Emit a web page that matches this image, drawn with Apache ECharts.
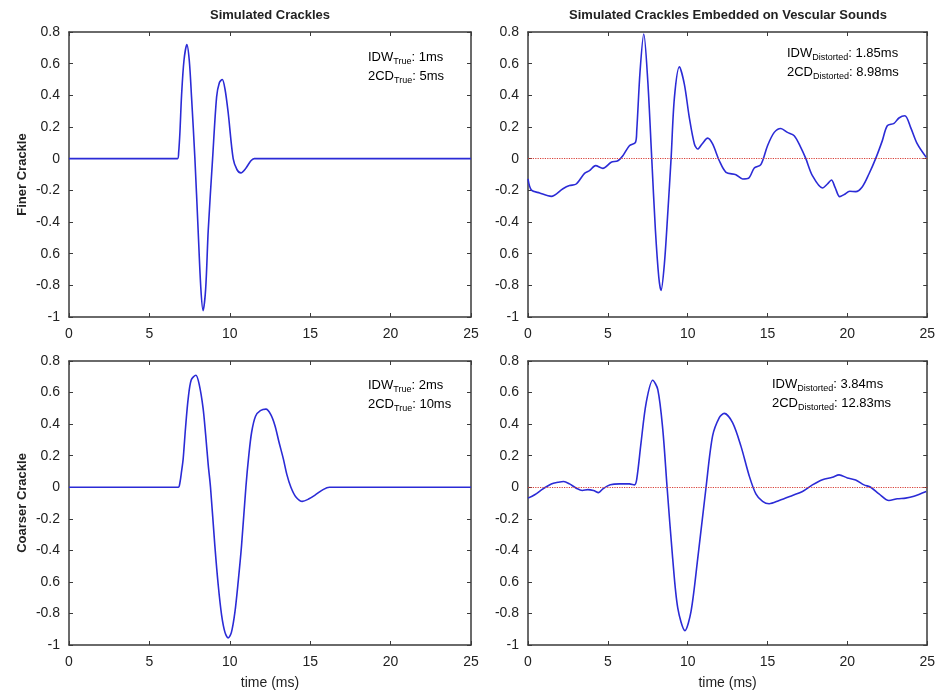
<!DOCTYPE html>
<html>
<head>
<meta charset="utf-8">
<script src="https://cdn.jsdelivr.net/npm/echarts@6/dist/echarts.min.js"></script>
<style>
  html, body { margin: 0; padding: 0; background: #fff; }
  #chart { width: 938px; height: 693px; }
</style>
</head>
<body>
<div id="chart"></div>
<script>
// ---- data ----
const titles = ['Simulated Crackles', 'Simulated Crackles Embedded on Vescular Sounds'];
const rowNames = ['Finer Crackle', 'Coarser Crackle'];
const xName = 'time (ms)';
const yTickLabels = ['-1', '-0.8', '0.6', '-0.4', '-0.2', '0', '0.2', '0.4', '0.6', '0.8'];

// finer crackle, simulated
const tFineTrue = [0, 6.75, 6.82, 6.9, 7.0, 7.15, 7.33, 7.48, 7.62, 7.83, 8.03, 8.2, 8.34, 8.5, 8.66, 8.93, 9.18, 9.35, 9.53, 9.7, 9.9, 10.21, 10.45, 10.69, 11.0, 11.3, 11.52, 25];
const vFineTrue = [0, 0, 0.04, 0.17, 0.4, 0.62, 0.72, 0.62, 0.39, 0, -0.45, -0.82, -0.96, -0.82, -0.45, 0, 0.39, 0.48, 0.5, 0.44, 0.29, 0, -0.07, -0.09, -0.06, -0.015, 0, 0];

// finer crackle, on vesicular sounds
const tFineDist = [0, 0.21, 0.73, 1.46, 2.19, 2.6, 3.02, 3.54, 3.85, 4.23, 4.69, 5.21, 5.63, 5.94, 6.35, 6.73, 6.81, 7.02, 7.25, 7.5, 7.75, 7.98, 8.19, 8.33, 8.54, 8.75, 8.96, 9.17, 9.48, 9.79, 10.1, 10.42, 10.63, 10.9, 11.25, 11.56, 11.98, 12.4, 13.02, 13.44, 13.81, 14.17, 14.58, 15.0, 15.42, 15.83, 16.25, 16.67, 17.08, 17.4, 17.81, 18.44, 18.75, 19.0, 19.23, 19.52, 19.79, 20.15, 20.52, 20.94, 21.35, 21.77, 22.19, 22.5, 22.92, 23.23, 23.6, 23.96, 24.38, 24.94];
const vFineDist = [-0.128, -0.198, -0.217, -0.238, -0.19, -0.17, -0.16, -0.093, -0.076, -0.044, -0.061, -0.023, -0.013, 0.019, 0.082, 0.103, 0.177, 0.555, 0.787, 0.492, 0, -0.454, -0.749, -0.833, -0.665, -0.349, 0, 0.387, 0.58, 0.471, 0.261, 0.093, 0.061, 0.093, 0.13, 0.093, -0.013, -0.086, -0.101, -0.128, -0.124, -0.059, -0.038, 0.082, 0.166, 0.191, 0.166, 0.145, 0.072, 0, -0.107, -0.185, -0.16, -0.135, -0.181, -0.24, -0.227, -0.206, -0.208, -0.177, -0.097, 0, 0.114, 0.208, 0.223, 0.257, 0.271, 0.198, 0.093, 0.008];

// coarser crackle, simulated
const tCoarseTrue = [0, 6.79, 6.9, 7.0, 7.1, 7.25, 7.41, 7.6, 7.89, 8.1, 8.34, 8.5, 8.66, 8.8, 9.07, 9.28, 9.49, 9.7, 9.9, 10.1, 10.32, 10.52, 10.73, 11.0, 11.18, 11.36, 11.6, 11.9, 12.25, 12.55, 12.81, 13.05, 13.33, 13.55, 13.8, 14.1, 14.51, 14.9, 15.3, 15.8, 16.2, 25];
const vCoarseTrue = [0, 0, 0.03, 0.1, 0.18, 0.38, 0.56, 0.68, 0.71, 0.65, 0.5, 0.33, 0.14, 0, -0.37, -0.62, -0.81, -0.92, -0.955, -0.92, -0.79, -0.6, -0.37, 0, 0.2, 0.35, 0.45, 0.485, 0.495, 0.46, 0.39, 0.29, 0.18, 0.08, 0, -0.06, -0.09, -0.075, -0.05, -0.015, 0, 0];

// coarser crackle, on vesicular sounds
const tCoarseDist = [0, 0.42, 0.94, 1.46, 1.88, 2.23, 2.6, 3.02, 3.4, 3.75, 4.1, 4.42, 4.69, 5.15, 5.73, 6.35, 6.67, 6.81, 7.08, 7.4, 7.81, 8.13, 8.44, 8.71, 9.06, 9.38, 9.83, 10.21, 10.63, 11.15, 11.56, 11.98, 12.29, 12.81, 13.33, 13.85, 14.27, 14.69, 15.1, 15.73, 16.56, 17.19, 17.81, 18.44, 19.06, 19.48, 20.0, 20.52, 21.04, 21.46, 21.98, 22.6, 23.13, 23.65, 24.17, 24.94];
const vCoarseDist = [-0.069, -0.048, -0.01, 0.021, 0.031, 0.036, 0.021, -0.006, -0.021, -0.015, -0.021, -0.034, -0.01, 0.015, 0.021, 0.021, 0.015, 0.052, 0.283, 0.535, 0.678, 0.619, 0.367, 0, -0.451, -0.766, -0.909, -0.787, -0.451, 0, 0.325, 0.441, 0.468, 0.409, 0.262, 0.073, -0.042, -0.09, -0.105, -0.084, -0.052, -0.027, 0.015, 0.048, 0.063, 0.078, 0.059, 0.046, 0.015, 0, -0.042, -0.084, -0.073, -0.069, -0.057, -0.027];

const notes = [
  ['True', '1ms', '5ms'],
  ['Distorted', '1.85ms', '8.98ms'],
  ['True', '2ms', '10ms'],
  ['Distorted', '3.84ms', '12.83ms']
];

// ---- layout ----
const FONT = 'Liberation Sans, Arial, sans-serif';
const INK = '#222';
const FRAME = '#3a3a3a';
const LINE = '#2b2bd6';

const grids = [
  { left: 69, top: 32, width: 402, height: 285 },
  { left: 528, top: 32, width: 400, height: 285 },
  { left: 69, top: 361, width: 402, height: 284 },
  { left: 528, top: 361, width: 400, height: 284 }
];
const notePos = [[368, 48, 67], [787, 44, 63], [368, 376, 395], [772, 375, 394]];

const zip = (t, v) => t.map((x, i) => [x, v[i]]);
const panels = [
  zip(tFineTrue, vFineTrue),
  zip(tFineDist, vFineDist),
  zip(tCoarseTrue, vCoarseTrue),
  zip(tCoarseDist, vCoarseDist)
];

const tick = { show: true, inside: true, length: 4, lineStyle: { color: FRAME, width: 1 } };
const axLine = { show: true, onZero: false, lineStyle: { color: FRAME, width: 1.5 } };
const lbl = { fontFamily: FONT, fontSize: 14, color: INK };

const xAxes = [], yAxes = [];
grids.forEach((g, i) => {
  const bottomRow = i >= 2;
  xAxes.push({
    gridIndex: i, type: 'value', position: 'bottom', min: 0, max: 25, interval: 5,
    axisLine: axLine, axisTick: tick, splitLine: { show: false },
    axisLabel: Object.assign({ margin: 10 }, lbl),
    name: bottomRow ? xName : '', nameLocation: 'middle', nameGap: 31,
    nameTextStyle: { fontFamily: FONT, fontSize: 14, color: INK }
  });
  yAxes.push({
    gridIndex: i, type: 'value', position: 'left', min: -1, max: 0.8, interval: 0.2,
    axisLine: axLine, axisTick: tick, splitLine: { show: false },
    axisLabel: Object.assign({ margin: 9, formatter: v => yTickLabels[Math.round((v + 1) / 0.2)] }, lbl),
    name: i % 2 === 0 ? rowNames[i >> 1] : '', nameLocation: 'middle', nameGap: 40, nameRotate: 90,
    nameTextStyle: { fontFamily: FONT, fontSize: 13, fontWeight: 'bold', color: INK }
  });
});
// mirrored frame axes (top / right) with inward ticks
grids.forEach((g, i) => {
  xAxes.push({
    gridIndex: i, type: 'value', position: 'top', min: 0, max: 25, interval: 5,
    axisLine: axLine, axisTick: tick, axisLabel: { show: false }, splitLine: { show: false }
  });
  yAxes.push({
    gridIndex: i, type: 'value', position: 'right', min: -1, max: 0.8, interval: 0.2,
    axisLine: axLine, axisTick: tick, axisLabel: { show: false }, splitLine: { show: false }
  });
});

const series = panels.map((d, i) => ({
  type: 'line', xAxisIndex: i, yAxisIndex: i, data: d,
  smooth: 0.3, showSymbol: false, symbol: 'none', silent: true,
  lineStyle: { color: LINE, width: 1.6 },
  markLine: i % 2 === 1 ? {
    silent: true, symbol: 'none', label: { show: false },
    lineStyle: { color: '#d9413a', type: 'dotted', width: 1.2 },
    data: [{ yAxis: 0 }]
  } : undefined,
  z: 3
}));

const rich = {
  a: { fontFamily: FONT, fontSize: 13, color: INK, lineHeight: 18 },
  s: { fontFamily: FONT, fontSize: 9, color: INK, lineHeight: 18, padding: [9, 0, 0, 0] }
};
const graphic = [];
titles.forEach((t, c) => {
  const g = grids[c];
  graphic.push({
    type: 'text', x: g.left + g.width / 2, y: 15,
    style: { text: t, font: 'bold 13px ' + FONT, fill: INK, align: 'center', verticalAlign: 'middle' }
  });
});
notes.forEach((n, i) => {
  const p = notePos[i];
  graphic.push({ type: 'text', x: p[0], y: p[1], style: { text: '{a|IDW}{s|' + n[0] + '}{a|: ' + n[1] + '}', rich } });
  graphic.push({ type: 'text', x: p[0], y: p[2], style: { text: '{a|2CD}{s|' + n[0] + '}{a|: ' + n[2] + '}', rich } });
});

const chart = echarts.init(document.getElementById('chart'), null, { renderer: 'canvas' });
chart.setOption({
  animation: false,
  backgroundColor: '#fff',
  grid: grids,
  xAxis: xAxes,
  yAxis: yAxes,
  series: series,
  graphic: graphic
});
</script>
</body>
</html>
